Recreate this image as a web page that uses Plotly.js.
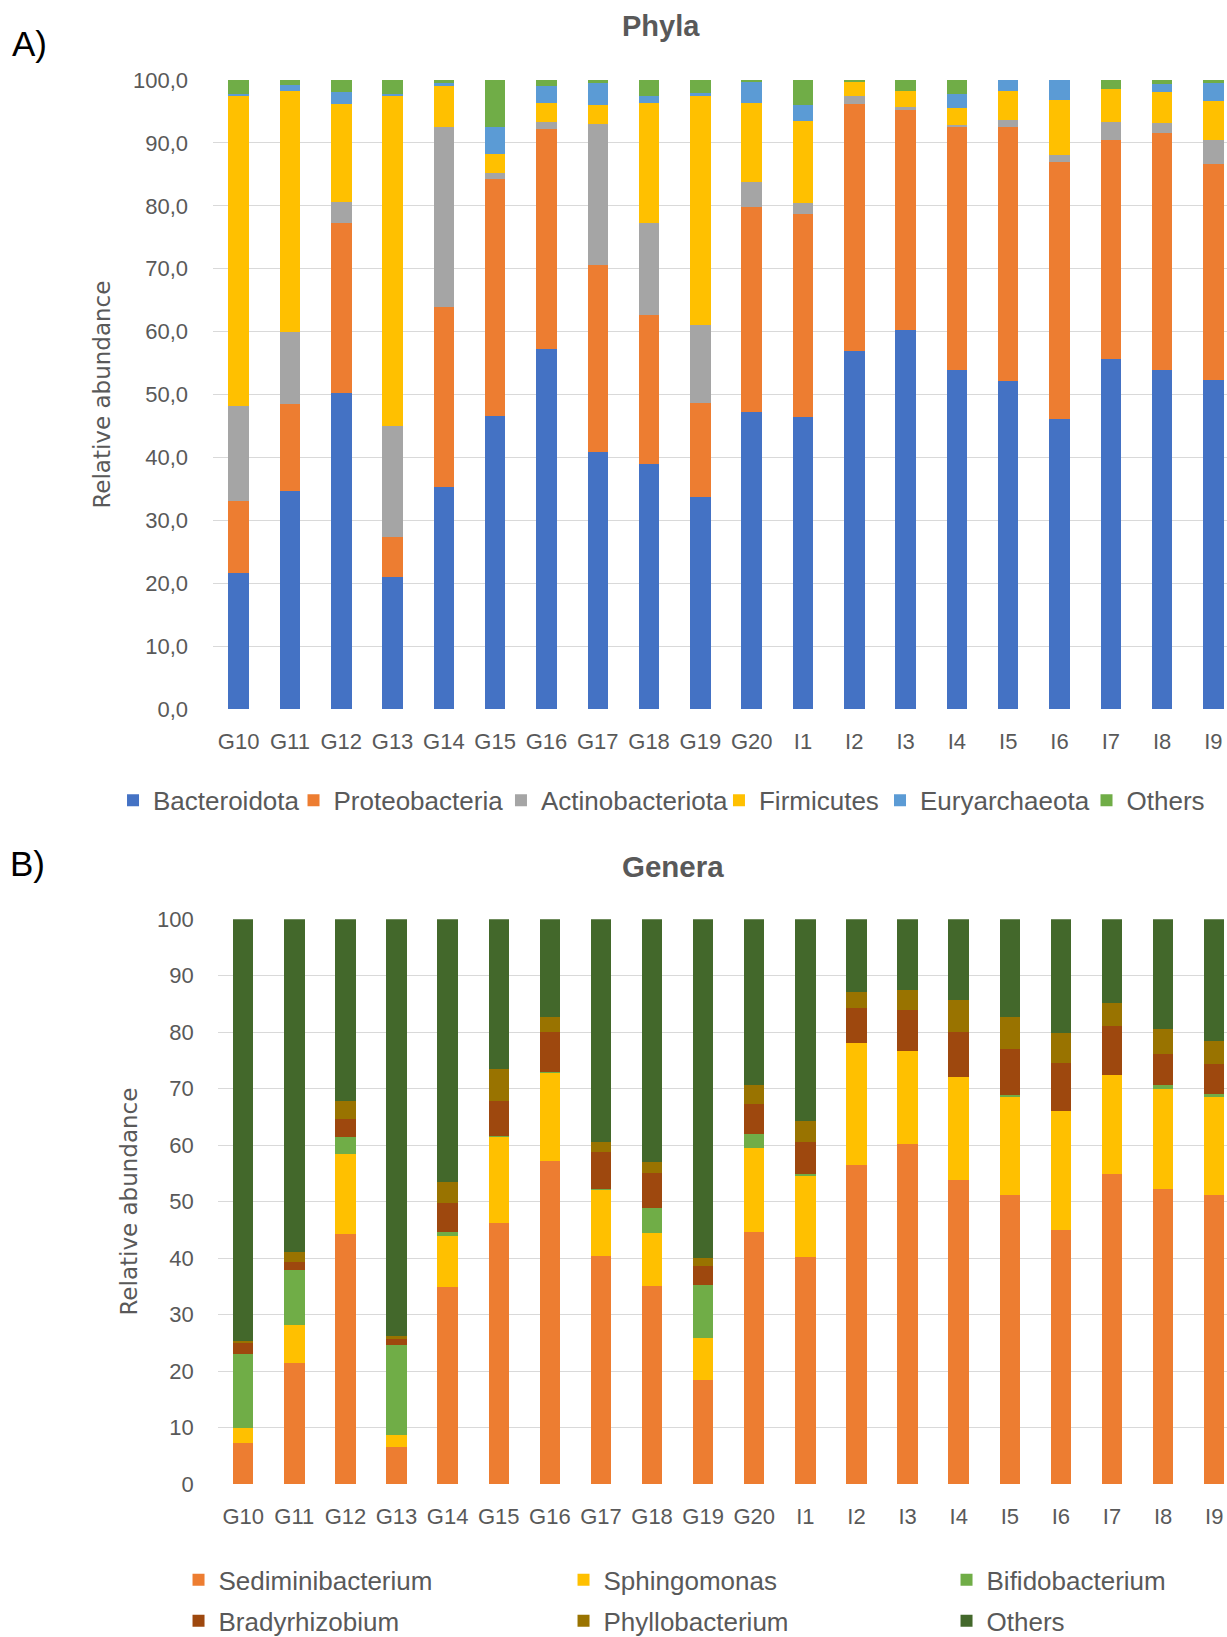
<!DOCTYPE html>
<html>
<head>
<meta charset="utf-8">
<script src="https://cdn.plot.ly/plotly-3.0.1.min.js"></script>
<style>html,body{margin:0;padding:0;background:#fff;}#chart{width:1227px;height:1637px;}</style>
</head>
<body>
<div id="chart"></div>
<script>
// ---------- data ----------
const samples = ['G10','G11','G12','G13','G14','G15','G16','G17','G18','G19','G20','I1','I2','I3','I4','I5','I6','I7','I8','I9'];

// A) Phyla (relative abundance, %)
const bacteroidota     = [21.6,34.7,50.2,21.1,35.3,46.6,57.3,40.9,39.0,33.7,47.3,46.5,57.0,60.3,53.9,52.1,46.1,55.6,53.9,52.3];
const proteobacteria   = [11.5,13.8,27.1,6.2,28.7,37.7,34.9,29.7,23.7,15.0,32.5,32.2,39.2,34.9,38.7,40.5,40.8,34.9,37.6,34.4];
const actinobacteriota = [15.1,11.5,3.3,17.7,28.6,0.9,1.1,22.4,14.6,12.4,4.0,1.8,1.2,0.5,0.2,1.1,1.2,2.8,1.6,3.7];
const firmicutes       = [49.4,38.3,15.6,52.6,6.6,3.1,3.1,3.1,19.1,36.4,12.5,13.0,2.3,2.6,2.7,4.6,8.8,5.2,5.0,6.3];
const euryarchaeota    = [0.1,0.9,1.9,0.1,0.3,4.3,2.7,3.4,1.0,0.4,3.4,2.5,0,0,2.2,1.7,3.1,0,1.3,2.8];
const othersPhyla      = [2.3,0.8,1.9,2.3,0.5,7.4,0.9,0.5,2.6,2.1,0.3,4.0,0.3,1.7,2.3,0,0,1.5,0.6,0.5];

// B) Genera (relative abundance, %)
const sediminibacterium = [7.3,21.5,44.2,6.6,34.8,46.2,57.2,40.4,35.0,18.5,44.7,40.2,56.5,60.2,53.8,51.2,44.9,54.9,52.3,51.2];
const sphingomonas      = [2.6,6.6,14.2,2.1,9.1,15.3,15.7,11.7,9.4,7.3,14.7,14.3,21.5,16.4,18.2,17.3,21.2,17.5,17.6,17.4];
const bifidobacterium   = [13.1,9.7,3.0,15.9,0.8,0.2,0.1,0.1,4.5,9.5,2.5,0.4,0,0,0,0.4,0,0,0.7,0.5];
const bradyrhizobium    = [2.0,1.5,3.3,1.1,5.0,6.1,7.0,6.5,6.2,3.3,5.3,5.6,6.3,7.3,8.1,8.2,8.4,8.6,5.6,5.2];
const phyllobacterium   = [0.3,1.8,3.1,0.5,3.8,5.6,2.7,1.9,1.9,1.4,3.5,3.7,2.8,3.5,5.6,5.6,5.4,4.2,4.4,4.2];
const othersGenera      = [74.7,58.9,32.2,73.8,46.5,26.6,17.3,39.4,43.0,60.0,29.3,35.8,12.9,12.6,14.3,17.3,20.1,14.8,19.4,21.5];

const yTicksA = [0,10,20,30,40,50,60,70,80,90,100];
const yTicksB = [0,10,20,30,40,50,60,70,80,90,100];

// ---------- styling ----------
const SANS = '"Liberation Sans", Arial, Helvetica, sans-serif';
const GREY = '#595959';

function bar(name, y, color, xa, ya, legend, lw) {
  const t = {
    type: 'bar', name: name, x: samples, y: y,
    xaxis: xa, yaxis: ya, legend: legend,
    marker: {color: color, line: {width: 0}},
    hoverinfo: 'name+y'
  };
  if (lw) t.legendwidth = lw;
  return t;
}

const traces = [
  bar('Bacteroidota', bacteroidota, '#4472C4', 'x', 'y', 'legend', 135.5),
  bar('Proteobacteria', proteobacteria, '#ED7D31', 'x', 'y', 'legend'),
  bar('Actinobacteriota', actinobacteriota, '#A5A5A5', 'x', 'y', 'legend2', 173),
  bar('Firmicutes', firmicutes, '#FFC000', 'x', 'y', 'legend2'),
  bar('Euryarchaeota', euryarchaeota, '#5B9BD5', 'x', 'y', 'legend3', 161.5),
  bar('Others', othersPhyla, '#70AD47', 'x', 'y', 'legend3'),

  bar('Sediminibacterium', sediminibacterium, '#ED7D31', 'x2', 'y2', 'legend4', 340),
  bar('Sphingomonas', sphingomonas, '#FFC000', 'x2', 'y2', 'legend4', 338),
  bar('Bifidobacterium', bifidobacterium, '#70AD47', 'x2', 'y2', 'legend4'),
  bar('Bradyrhizobium', bradyrhizobium, '#9E480E', 'x2', 'y2', 'legend5', 340),
  bar('Phyllobacterium', phyllobacterium, '#997300', 'x2', 'y2', 'legend5', 338),
  bar('Others', othersGenera, '#43682B', 'x2', 'y2', 'legend5')
];

const tickFont = {family: SANS, size: 22, color: GREY};
const yTitleFont = {family: '"DejaVu Sans", sans-serif', size: 23, color: GREY};

function legendCfg(x, y) {
  return {
    orientation: 'h', x: x, xanchor: 'left', y: y, yanchor: 'middle',
    font: {family: SANS, size: 26, color: GREY},
    bgcolor: 'rgba(0,0,0,0)', borderwidth: 0, traceorder: 'normal'
  };
}

const layout = {
  width: 1227, height: 1637,
  margin: {l: 213, r: 0, t: 79.5, b: 153, pad: 0, autoexpand: false},
  paper_bgcolor: '#ffffff', plot_bgcolor: '#ffffff',
  font: {family: SANS, color: GREY},
  separators: ',.',
  barmode: 'stack',
  bargap: 0.6,
  showlegend: true,
  xaxis: {
    domain: [0, 1], range: [-0.5, 19.265], type: 'category', automargin: false,
    showgrid: false, zeroline: false, showline: false, ticks: '', tickangle: 0,
    tickfont: tickFont, ticklabelstandoff: 17, fixedrange: true
  },
  yaxis: {
    domain: [0.5518, 1], range: [0, 100], automargin: false,
    tickmode: 'array', tickvals: yTicksA, tickformat: '.1f',
    showgrid: true, gridcolor: '#d9d9d9', gridwidth: 1.3,
    zeroline: false, showline: false, ticks: '',
    tickfont: tickFont, ticklabelstandoff: 24, fixedrange: true,
    title: {text: 'Relative abundance', font: yTitleFont, standoff: 15}
  },
  xaxis2: {
    domain: [0.0046, 1], range: [-0.5, 19.25], type: 'category', anchor: 'y2', automargin: false,
    showgrid: false, zeroline: false, showline: false, ticks: '', tickangle: 0,
    tickfont: tickFont, ticklabelstandoff: 17, fixedrange: true
  },
  yaxis2: {
    domain: [0, 0.4023], range: [0, 100], anchor: 'x2', automargin: false,
    tickmode: 'array', tickvals: yTicksB,
    showgrid: true, gridcolor: '#d9d9d9', gridwidth: 1.3,
    zeroline: false, showline: false, ticks: '',
    tickfont: tickFont, ticklabelstandoff: 23, fixedrange: true,
    title: {text: 'Relative abundance', font: yTitleFont, standoff: 12}
  },
  legend:  legendCfg(-0.0986, 0.4870),
  legend2: legendCfg(0.2840, 0.4870),
  legend3: legendCfg(0.6578, 0.4870),
  legend4: legendCfg(-0.0340, -0.0683),
  legend5: legendCfg(-0.0340, -0.0975),
  annotations: [
    {text: 'A)', xref: 'paper', yref: 'paper', x: -0.2005, y: 1.0261, xanchor: 'left', yanchor: 'middle',
     showarrow: false, font: {family: SANS, size: 35, color: '#000000'}},
    {text: '<b>Phyla</b>', xref: 'paper', yref: 'paper', x: 0.4418, y: 1.0388, xanchor: 'center', yanchor: 'middle',
     showarrow: false, font: {family: SANS, size: 29, color: GREY}},
    {text: 'B)', xref: 'paper', yref: 'paper', x: -0.2023, y: 0.4420, xanchor: 'left', yanchor: 'middle',
     showarrow: false, font: {family: SANS, size: 35, color: '#000000'}},
    {text: '<b>Genera</b>', xref: 'paper', yref: 'paper', x: 0.4541, y: 0.4400, xanchor: 'center', yanchor: 'middle',
     showarrow: false, font: {family: SANS, size: 29.5, color: GREY}}
  ]
};

Plotly.newPlot('chart', traces, layout, {displayModeBar: false, responsive: false});
</script>
</body>
</html>
